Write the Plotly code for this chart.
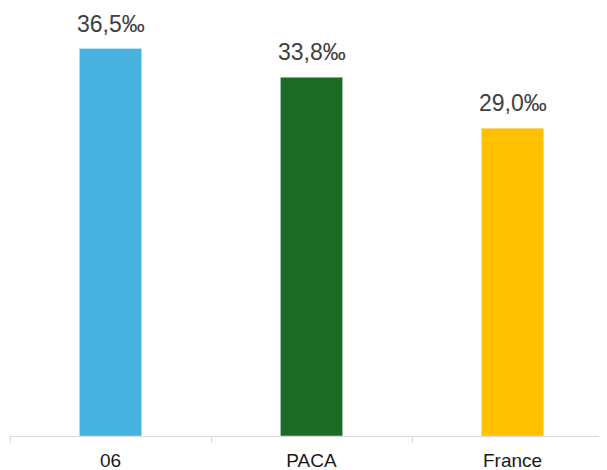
import plotly.graph_objects as go

categories = ["06", "PACA", "France"]
values = [36.5, 33.8, 29.0]
labels = ["36,5‰", "33,8‰", "29,0‰"]
colors = ["#47B1E0", "#1B6B25", "#FFC000"]

fig = go.Figure(go.Bar(
    x=categories,
    y=values,
    marker_color=colors,
    width=0.31,
))

# x given as index so "06" is not read as the number 6
for i, (val, lab) in enumerate(zip(values, labels)):
    fig.add_annotation(
        x=i, y=val, text=lab, showarrow=False,
        yanchor="bottom", yshift=10,
        font=dict(size=23, color="#404040"),
    )

# the page body adds an 8px offset, margins compensate for it
fig.update_layout(
    width=599,
    height=470,
    margin=dict(l=2, r=0, t=0, b=42),
    plot_bgcolor="white",
    paper_bgcolor="white",
    font=dict(family="Liberation Sans, Arial, sans-serif"),
    showlegend=False,
    xaxis=dict(
        type="category",
        range=[-0.5, 2.47],
        automargin=False,
        showline=True,
        linecolor="#d9d9d9",
        linewidth=1,
        ticks="outside",
        tickson="boundaries",
        ticklen=6,
        tickcolor="#d9d9d9",
        ticklabelstandoff=7,
        tickfont=dict(size=19, color="#1a1a1a"),
        showgrid=False,
    ),
    yaxis=dict(
        range=[0, 40.32],
        visible=False,
        showgrid=False,
    ),
)

fig.write_html("out.html")
